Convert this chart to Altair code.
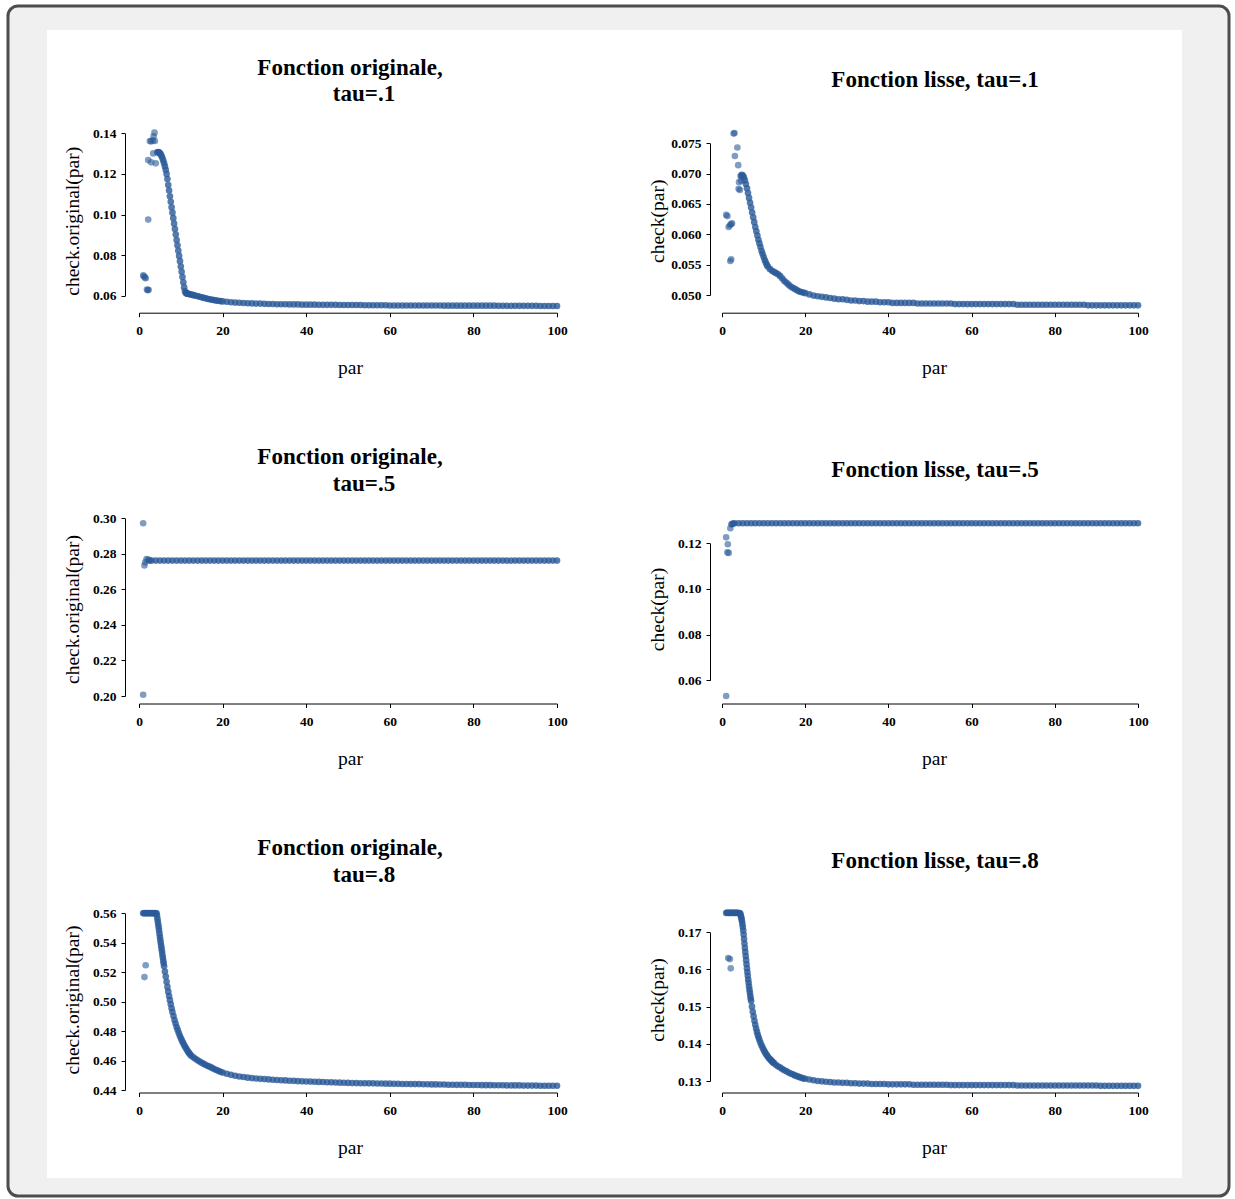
import altair as alt
import pandas as pd

# ---------------- data ----------------
TAIL_PAR = [13, 14, 15, 16, 17, 18, 19, 20, 21, 22,
            23, 24, 25, 26, 27, 28, 29, 30, 31, 32,
            33, 34, 35, 36, 37, 38, 39, 40, 41, 42,
            43, 44, 45, 46, 47, 48, 49, 50, 51, 52,
            53, 54, 55, 56, 57, 58, 59, 60, 61, 62,
            63, 64, 65, 66, 67, 68, 69, 70, 71, 72,
            73, 74, 75, 76, 77, 78, 79, 80, 81, 82,
            83, 84, 85, 86, 87, 88, 89, 90, 91, 92,
            93, 94, 95, 96, 97, 98, 99, 100]

# Panel 1 : Fonction originale, tau=.1
P1_SCATTER_X = [1.0, 1.2, 1.4, 1.6, 1.9, 2.1, 2.3, 2.2, 2.2, 2.9, 4.0, 3.4, 2.6, 2.9, 3.3, 3.8, 3.5, 3.7]
P1_SCATTER_Y = [0.0700, 0.0696, 0.0690, 0.0686, 0.0630, 0.0627, 0.0629, 0.0975, 0.1268, 0.1257,
                0.1252, 0.1301, 0.1362, 0.1360, 0.1365, 0.1362, 0.1385, 0.1403]
P1_CURVE_X = [4.4, 4.6, 4.8, 5.0, 5.2, 5.4, 5.6, 5.8, 6.0, 6.2, 6.4, 6.6, 6.8, 7.0, 7.2, 7.4, 7.6, 7.8,
              8.0, 8.2, 8.4, 8.6, 8.8, 9.0, 9.2, 9.4, 9.6, 9.8, 10.0, 10.2, 10.4, 10.6, 10.8, 11.0,
              11.2, 11.4, 11.6, 11.8, 12.0, 12.4, 12.8,
              13.5, 14.5, 15.5, 16.5, 17.5, 18.5, 19.5]
P1_CURVE_Y = [0.1306, 0.1308, 0.1306, 0.1302, 0.1296, 0.1288, 0.1278, 0.1266, 0.1252, 0.1237,
              0.1220, 0.1200, 0.1175, 0.1145, 0.1118, 0.1090, 0.1063, 0.1036, 0.1009, 0.0982,
              0.0955, 0.0928, 0.0901, 0.0874, 0.0848, 0.0822, 0.0796, 0.0770, 0.0744, 0.0718,
              0.0692, 0.0666, 0.0641, 0.0622, 0.0613, 0.0611, 0.0610, 0.0609, 0.0608, 0.0606, 0.0604,
              0.0600, 0.0595, 0.0589, 0.0584, 0.0580, 0.0576, 0.0573]
P1_TAIL_Y = [0.0603, 0.0598, 0.0592, 0.0587, 0.0582, 0.0578, 0.0575, 0.0572, 0.0570, 0.0568,
             0.0566, 0.0565, 0.0564, 0.0563, 0.0562, 0.0561, 0.0561, 0.0560, 0.0559, 0.0559,
             0.0558, 0.0558, 0.0558, 0.0557, 0.0557, 0.0557, 0.0556, 0.0556, 0.0556, 0.0556,
             0.0555, 0.0555, 0.0555, 0.0555, 0.0555, 0.0554, 0.0554, 0.0554, 0.0554, 0.0554,
             0.0554, 0.0553, 0.0553, 0.0553, 0.0553, 0.0553, 0.0553, 0.0552, 0.0552, 0.0552,
             0.0552, 0.0552, 0.0552, 0.0552, 0.0552, 0.0552, 0.0552, 0.0552, 0.0552, 0.0552,
             0.0551, 0.0551, 0.0551, 0.0551, 0.0551, 0.0551, 0.0551, 0.0551, 0.0551, 0.0551,
             0.0551, 0.0551, 0.0551, 0.0550, 0.0550, 0.0550, 0.0550, 0.0550, 0.0550, 0.0550,
             0.0550, 0.0550, 0.0550, 0.0549, 0.0549, 0.0549, 0.0549, 0.0549]

# Panel 2 : Fonction lisse, tau=.1
P2_SCATTER_X = [1.0, 1.3, 1.6, 1.9, 2.2, 2.4, 2.0, 2.2, 2.8, 3.0, 3.7, 3.1, 3.9, 4.1, 4.6, 4.3, 4.0]
P2_SCATTER_Y = [0.0632, 0.0630, 0.0612, 0.0615, 0.0617, 0.0618, 0.0556, 0.0559, 0.0766, 0.0767,
                0.0743, 0.0729, 0.0714, 0.0686, 0.0688, 0.0673, 0.0675]
P2_CURVE_X = [4.5, 4.75, 5.0, 5.25, 5.5, 5.75, 6.0, 6.25, 6.5, 6.75, 7.0, 7.25, 7.5, 7.75, 8.0,
              8.25, 8.5, 8.75, 9.0, 9.25, 9.5, 9.75, 10.0, 10.25, 10.5, 10.75, 11.0, 11.5, 12.0, 12.5,
              13.5, 14.5, 15.5, 16.5, 17.5, 18.5, 19.5]
P2_CURVE_Y = [0.0696, 0.0698, 0.0697, 0.0694, 0.0689, 0.0683, 0.0676, 0.0668, 0.0660, 0.0652,
              0.0644, 0.0636, 0.0628, 0.0620, 0.0612, 0.0605, 0.0598, 0.0591, 0.0585, 0.0579,
              0.0573, 0.0568, 0.0563, 0.0558, 0.0554, 0.0550, 0.0547, 0.0543, 0.0540, 0.0538,
              0.0534, 0.0527, 0.0520, 0.0514, 0.0510, 0.0506, 0.0504]
P2_TAIL_Y = [0.0536, 0.0531, 0.0523, 0.0517, 0.0512, 0.0508, 0.0505, 0.0503, 0.0501, 0.0499,
             0.0498, 0.0497, 0.0496, 0.0495, 0.0494, 0.0493, 0.0493, 0.0492, 0.0491, 0.0491,
             0.0490, 0.0490, 0.0489, 0.0489, 0.0489, 0.0488, 0.0488, 0.0488, 0.0487, 0.0487,
             0.0487, 0.0487, 0.0487, 0.0487, 0.0486, 0.0486, 0.0486, 0.0486, 0.0486, 0.0486,
             0.0486, 0.0486, 0.0486, 0.0485, 0.0485, 0.0485, 0.0485, 0.0485, 0.0485, 0.0485,
             0.0485, 0.0485, 0.0485, 0.0485, 0.0485, 0.0485, 0.0485, 0.0485, 0.0484, 0.0484,
             0.0484, 0.0484, 0.0484, 0.0484, 0.0484, 0.0484, 0.0484, 0.0484, 0.0484, 0.0484,
             0.0484, 0.0484, 0.0484, 0.0484, 0.0484, 0.0483, 0.0483, 0.0483, 0.0483, 0.0483,
             0.0483, 0.0483, 0.0483, 0.0483, 0.0483, 0.0483, 0.0483, 0.0483]

# Panel 3 : Fonction originale, tau=.5
P3_SCATTER_X = [1.0, 1.0, 1.3, 1.5, 1.8, 2.2]
P3_SCATTER_Y = [0.2972, 0.2007, 0.2735, 0.2752, 0.2770, 0.2768]
P3_CURVE_X = [2.5, 3, 4, 5, 6, 7, 8, 9, 10, 11, 12]
P3_CURVE_Y = [0.2762, 0.2762, 0.2762, 0.2762, 0.2762, 0.2762, 0.2762, 0.2762, 0.2762, 0.2762, 0.2762]
P3_TAIL_Y = [0.2762, 0.2762, 0.2762, 0.2762, 0.2762, 0.2762, 0.2762, 0.2762, 0.2762, 0.2762,
             0.2762, 0.2762, 0.2762, 0.2762, 0.2762, 0.2762, 0.2762, 0.2762, 0.2762, 0.2762,
             0.2762, 0.2762, 0.2762, 0.2762, 0.2762, 0.2762, 0.2762, 0.2762, 0.2762, 0.2762,
             0.2762, 0.2762, 0.2762, 0.2762, 0.2762, 0.2762, 0.2762, 0.2762, 0.2762, 0.2762,
             0.2762, 0.2762, 0.2762, 0.2762, 0.2762, 0.2762, 0.2762, 0.2762, 0.2762, 0.2762,
             0.2762, 0.2762, 0.2762, 0.2762, 0.2762, 0.2762, 0.2762, 0.2762, 0.2762, 0.2762,
             0.2762, 0.2762, 0.2762, 0.2762, 0.2762, 0.2762, 0.2762, 0.2762, 0.2762, 0.2762,
             0.2762, 0.2762, 0.2762, 0.2762, 0.2762, 0.2762, 0.2762, 0.2762, 0.2762, 0.2762,
             0.2762, 0.2762, 0.2762, 0.2762, 0.2762, 0.2762, 0.2762, 0.2762]

# Panel 4 : Fonction lisse, tau=.5
P4_SCATTER_X = [1.0, 1.4, 1.3, 1.6, 1.0, 2.0]
P4_SCATTER_Y = [0.1226, 0.1196, 0.1160, 0.1158, 0.0531, 0.1266]
P4_CURVE_X = [2.3, 2.6, 3, 4, 5, 6, 7, 8, 9, 10, 11, 12]
P4_CURVE_Y = [0.1283, 0.1286, 0.1288, 0.1288, 0.1288, 0.1288, 0.1288, 0.1288, 0.1288, 0.1288, 0.1288, 0.1288]
P4_TAIL_Y = [0.1288, 0.1288, 0.1288, 0.1288, 0.1288, 0.1288, 0.1288, 0.1288, 0.1288, 0.1288,
             0.1288, 0.1288, 0.1288, 0.1288, 0.1288, 0.1288, 0.1288, 0.1288, 0.1288, 0.1288,
             0.1288, 0.1288, 0.1288, 0.1288, 0.1288, 0.1288, 0.1288, 0.1288, 0.1288, 0.1288,
             0.1288, 0.1288, 0.1288, 0.1288, 0.1288, 0.1288, 0.1288, 0.1288, 0.1288, 0.1288,
             0.1288, 0.1288, 0.1288, 0.1288, 0.1288, 0.1288, 0.1288, 0.1288, 0.1288, 0.1288,
             0.1288, 0.1288, 0.1288, 0.1288, 0.1288, 0.1288, 0.1288, 0.1288, 0.1288, 0.1288,
             0.1288, 0.1288, 0.1288, 0.1288, 0.1288, 0.1288, 0.1288, 0.1288, 0.1288, 0.1288,
             0.1288, 0.1288, 0.1288, 0.1288, 0.1288, 0.1288, 0.1288, 0.1288, 0.1288, 0.1288,
             0.1288, 0.1288, 0.1288, 0.1288, 0.1288, 0.1288, 0.1288, 0.1288]

# Panel 5 : Fonction originale, tau=.8
P5_SCATTER_X = [1.3, 1.6]
P5_SCATTER_Y = [0.5167, 0.5247]
P5_CURVE_X = [1.0, 1.25, 1.5, 1.75, 2.0, 2.25, 2.5, 2.75, 3.0, 3.25, 3.5, 3.75, 4.0,
              4.2, 4.3, 4.4, 4.5, 4.6, 4.7, 4.8, 4.9, 5.0, 5.1, 5.2, 5.3, 5.4, 5.5, 5.6, 5.7, 5.8, 5.9,
              6.0, 6.2, 6.4, 6.6, 6.8, 7.0, 7.2, 7.4, 7.6, 7.8, 8.0,
              8.25, 8.5, 8.75, 9.0, 9.25, 9.5, 9.75, 10.0, 10.25, 10.5, 10.75, 11.0, 11.25, 11.5,
              11.75, 12.0, 12.25, 12.5,
              13.5, 14.5, 15.5, 16.5, 17.5, 18.5, 19.5]
P5_CURVE_Y = [0.5600, 0.5601, 0.5600, 0.5602, 0.5600, 0.5601, 0.5600, 0.5602, 0.5600, 0.5601,
              0.5600, 0.5601, 0.5600,
              0.5600, 0.5585, 0.5565, 0.5545, 0.5525, 0.5505, 0.5485, 0.5462, 0.5440, 0.5420,
              0.5400, 0.5380, 0.5360, 0.5340, 0.5320, 0.5300, 0.5280, 0.5260,
              0.5240, 0.5205, 0.5170, 0.5135, 0.5100, 0.5068, 0.5038, 0.5010, 0.4982, 0.4955, 0.4930,
              0.4902, 0.4875, 0.4851, 0.4828, 0.4808, 0.4788, 0.4770, 0.4753, 0.4737, 0.4722,
              0.4708, 0.4695, 0.4683, 0.4671, 0.4660, 0.4650, 0.4641, 0.4632,
              0.4612, 0.4593, 0.4577, 0.4563, 0.4550, 0.4536, 0.4524]
P5_TAIL_Y = [0.4622, 0.4602, 0.4585, 0.4570, 0.4557, 0.4543, 0.4530, 0.4518, 0.4510, 0.4503,
             0.4497, 0.4492, 0.4488, 0.4484, 0.4481, 0.4478, 0.4476, 0.4474, 0.4472, 0.4470,
             0.4468, 0.4466, 0.4465, 0.4463, 0.4462, 0.4460, 0.4459, 0.4458, 0.4457, 0.4456,
             0.4455, 0.4454, 0.4453, 0.4452, 0.4451, 0.4450, 0.4449, 0.4448, 0.4447, 0.4447,
             0.4446, 0.4446, 0.4445, 0.4445, 0.4444, 0.4444, 0.4443, 0.4443, 0.4442, 0.4442,
             0.4441, 0.4441, 0.4440, 0.4440, 0.4440, 0.4439, 0.4439, 0.4438, 0.4438, 0.4437,
             0.4437, 0.4436, 0.4436, 0.4435, 0.4435, 0.4435, 0.4434, 0.4434, 0.4434, 0.4433,
             0.4433, 0.4433, 0.4432, 0.4432, 0.4432, 0.4431, 0.4431, 0.4431, 0.4431, 0.4430,
             0.4430, 0.4430, 0.4430, 0.4429, 0.4429, 0.4429, 0.4429, 0.4429]

# Panel 6 : Fonction lisse, tau=.8
P6_SCATTER_X = [1.5, 1.9, 2.1]
P6_SCATTER_Y = [0.1631, 0.1628, 0.1603]
P6_CURVE_X = [1.0, 1.25, 1.5, 1.75, 2.0, 2.25, 2.5, 2.75, 3.0, 3.25, 3.5, 3.75, 4.0, 4.25,
              4.4, 4.5, 4.6, 4.7, 4.8, 4.9, 5.0, 5.1, 5.2, 5.3, 5.4, 5.5, 5.6, 5.7, 5.8, 5.9,
              6.0, 6.1, 6.2, 6.3, 6.4, 6.5, 6.6, 6.7, 6.8, 6.9, 7.0,
              7.2, 7.4, 7.6, 7.8, 8.0, 8.2, 8.4, 8.6, 8.8, 9.0,
              9.25, 9.5, 9.75, 10.0, 10.25, 10.5, 10.75, 11.0, 11.25, 11.5, 11.75, 12.0, 12.25, 12.5,
              13.5, 14.5, 15.5, 16.5, 17.5, 18.5, 19.5]
P6_CURVE_Y = [0.1752, 0.1753, 0.1752, 0.1752, 0.1753, 0.1752, 0.1752, 0.1753, 0.1752, 0.1752,
              0.1753, 0.1752, 0.1752, 0.1752,
              0.1750, 0.1746, 0.1741, 0.1736, 0.1730, 0.1722, 0.1714, 0.1705, 0.1694, 0.1682,
              0.1670, 0.1658, 0.1647, 0.1636, 0.1625, 0.1614, 0.1603, 0.1593, 0.1583, 0.1573,
              0.1564, 0.1555, 0.1546, 0.1538, 0.1530, 0.1522, 0.1515,
              0.1500, 0.1486, 0.1474, 0.1462, 0.1451, 0.1441, 0.1432, 0.1424, 0.1417, 0.1410,
              0.1403, 0.1396, 0.1390, 0.1384, 0.1379, 0.1374, 0.1370, 0.1366, 0.1362, 0.1359,
              0.1356, 0.1353, 0.1350, 0.1348,
              0.1339, 0.1332, 0.1326, 0.1320, 0.1315, 0.1311, 0.1307]
P6_TAIL_Y = [0.1343, 0.1336, 0.1329, 0.1323, 0.1318, 0.1313, 0.1309, 0.1306, 0.1304, 0.1302,
             0.1300, 0.1299, 0.1298, 0.1297, 0.1296, 0.1296, 0.1295, 0.1295, 0.1294, 0.1294,
             0.1293, 0.1293, 0.1293, 0.1292, 0.1292, 0.1292, 0.1292, 0.1291, 0.1291, 0.1291,
             0.1291, 0.1291, 0.1291, 0.1290, 0.1290, 0.1290, 0.1290, 0.1290, 0.1290, 0.1290,
             0.1290, 0.1290, 0.1289, 0.1289, 0.1289, 0.1289, 0.1289, 0.1289, 0.1289, 0.1289,
             0.1289, 0.1289, 0.1289, 0.1289, 0.1289, 0.1289, 0.1289, 0.1289, 0.1288, 0.1288,
             0.1288, 0.1288, 0.1288, 0.1288, 0.1288, 0.1288, 0.1288, 0.1288, 0.1288, 0.1288,
             0.1288, 0.1288, 0.1288, 0.1288, 0.1288, 0.1288, 0.1288, 0.1288, 0.1287, 0.1287,
             0.1287, 0.1287, 0.1287, 0.1287, 0.1287, 0.1287, 0.1287, 0.1287]

X_TICKS = [0, 20, 40, 60, 80, 100]
Y_TICKS = {
    1: [0.06, 0.08, 0.10, 0.12, 0.14],
    2: [0.050, 0.055, 0.060, 0.065, 0.070, 0.075],
    3: [0.20, 0.22, 0.24, 0.26, 0.28, 0.30],
    4: [0.06, 0.08, 0.10, 0.12],
    5: [0.44, 0.46, 0.48, 0.50, 0.52, 0.54, 0.56],
    6: [0.13, 0.14, 0.15, 0.16, 0.17],
}
TITLE_LEFT = ["Fonction originale,", "Fonction originale,", "Fonction originale,"]
TITLE_LEFT_2 = ["tau=.1", "tau=.5", "tau=.8"]
TITLE_RIGHT = ["Fonction lisse, tau=.1", "Fonction lisse, tau=.5", "Fonction lisse, tau=.8"]
YTITLE = {0: "check.original(par)", 1: "check(par)"}
XTITLE = "par"

# ---------------- layout (pixels, view coordinates) ----------------
W, H = 1221, 1190
FONT = "Liberation Serif"
BLUE = "#2a5a98"
XR = {0: [131, 549], 1: [714, 1130]}
YAXIS_X = {0: 117, 1: 702}
XAXIS_Y = {0: 306.7, 1: 697.5, 2: 1086.5}
YTITLE_Y = {0: 214.8, 1: 603, 2: 993.5}
XTITLE_X = {0: 342, 1: 926}

PANELS = [
    dict(k=1, col=0, row=0, sx=P1_SCATTER_X, sy=P1_SCATTER_Y, cx=P1_CURVE_X, cy=P1_CURVE_Y, ty=P1_TAIL_Y,
         dom=[0.06, 0.14], rng=[289.7, 127.3], fmt=".2f"),
    dict(k=2, col=1, row=0, sx=P2_SCATTER_X, sy=P2_SCATTER_Y, cx=P2_CURVE_X, cy=P2_CURVE_Y, ty=P2_TAIL_Y,
         dom=[0.05, 0.075], rng=[289.0, 137.3], fmt=".3f"),
    dict(k=3, col=0, row=1, sx=P3_SCATTER_X, sy=P3_SCATTER_Y, cx=P3_CURVE_X, cy=P3_CURVE_Y, ty=P3_TAIL_Y,
         dom=[0.20, 0.30], rng=[690.0, 512.3], fmt=".2f"),
    dict(k=4, col=1, row=1, sx=P4_SCATTER_X, sy=P4_SCATTER_Y, cx=P4_CURVE_X, cy=P4_CURVE_Y, ty=P4_TAIL_Y,
         dom=[0.06, 0.12], rng=[674.3, 537.3], fmt=".2f"),
    dict(k=5, col=0, row=2, sx=P5_SCATTER_X, sy=P5_SCATTER_Y, cx=P5_CURVE_X, cy=P5_CURVE_Y, ty=P5_TAIL_Y,
         dom=[0.44, 0.56], rng=[1084.0, 907.3], fmt=".2f"),
    dict(k=6, col=1, row=2, sx=P6_SCATTER_X, sy=P6_SCATTER_Y, cx=P6_CURVE_X, cy=P6_CURVE_Y, ty=P6_TAIL_Y,
         dom=[0.13, 0.17], rng=[1075.0, 926.3], fmt=".2f"),
]

AXIS_COMMON = dict(
    grid=False, zindex=1, tickSize=4, tickColor="black", domainColor="black",
    labelFont=FONT, labelFontSize=13.5, labelFontWeight="bold", labelColor="black",
    labelFlush=False, labelOverlap=False,
    titleFont=FONT, titleFontSize=19.5, titleFontWeight="normal", titleColor="black",
)


def panel_chart(p):
    df = pd.DataFrame({
        "par": p["sx"] + p["cx"] + TAIL_PAR,
        "value": p["sy"] + p["cy"] + p["ty"],
        "grp": ["scatter"] * len(p["sx"]) + ["curve"] * (len(p["cx"]) + len(TAIL_PAR)),
    })
    col, row = p["col"], p["row"]
    xaxis = alt.Axis(values=X_TICKS, orient="bottom", offset=XAXIS_Y[row] - H,
                     labelPadding=7, title=XTITLE, titleX=XTITLE_X[col], titleY=55,
                     titleBaseline="middle", titleAlign="center", **AXIS_COMMON)
    yaxis = alt.Axis(values=Y_TICKS[p["k"]], format=p["fmt"], orient="left",
                     offset=-YAXIS_X[col], labelPadding=5, title=YTITLE[col],
                     titleX=-53, titleY=YTITLE_Y[row], titleAngle=270,
                     titleBaseline="middle", titleAlign="center", **AXIS_COMMON)
    return alt.Chart(df).mark_circle(size=44, color=BLUE).encode(
        x=alt.X("par:Q", scale=alt.Scale(domain=[0, 100], range=XR[col], nice=False, zero=False),
                axis=xaxis),
        y=alt.Y("value:Q", scale=alt.Scale(domain=p["dom"], range=p["rng"], nice=False, zero=False),
                axis=yaxis),
        opacity=alt.Opacity("grp:N", scale=alt.Scale(domain=["scatter", "curve"], range=[0.6, 0.8]),
                            legend=None),
    )


def text_chart(txt, x, y):
    return alt.Chart().mark_text(font=FONT, fontSize=23, fontWeight="bold", color="black",
                                 align="center", baseline="middle").encode(
        x=alt.value(x), y=alt.value(y), text=alt.value(txt))


white_panel = alt.Chart().mark_rect(color="white").encode(
    x=alt.value(39), x2=alt.value(1174), y=alt.value(24), y2=alt.value(1172))

layers = [white_panel] + [panel_chart(p) for p in PANELS]
L1_Y = [62, 451, 842]
L2_Y = [88, 478, 869]
R_Y = [74, 464, 855]
for i in range(3):
    layers.append(text_chart(TITLE_LEFT[i], 342, L1_Y[i]))
    layers.append(text_chart(TITLE_LEFT_2[i], 356, L2_Y[i]))
    layers.append(text_chart(TITLE_RIGHT[i], 927, R_Y[i]))

chart = alt.layer(*layers).resolve_scale(
    x="independent", y="independent"
).resolve_axis(
    x="independent", y="independent"
).properties(
    width=W, height=H,
    autosize=alt.AutoSizeParams(type="none"),
    padding={"left": 8, "top": 6, "right": 6, "bottom": 3},
    background="white",
).configure_view(
    fill="#f0f0f0", stroke="#4d4d4d", strokeWidth=3, cornerRadius=10
)

chart.save("out.html", embed_options={"renderer": "svg", "actions": False})
